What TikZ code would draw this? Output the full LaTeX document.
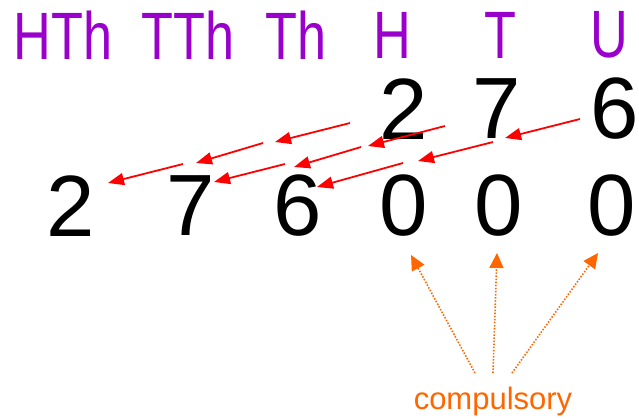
\documentclass[tikz,border=0pt]{standalone}
\usepackage{fontspec}
\setmainfont{Liberation Sans}
\usetikzlibrary{arrows.meta}
\definecolor{hdr}{RGB}{153,0,204}
\definecolor{org}{RGB}{255,102,0}
\tikzset{
  digit/.style={inner sep=0pt, anchor=center, font=\fontsize{87}{87}\selectfont},
  hdrlabel/.style={inner sep=0pt, anchor=center, text=hdr, font=\fontsize{67}{67}\selectfont, xscale=0.78, transform shape},
  movearrow/.style={red, line width=1.8pt, -{Triangle[length=16pt,width=12pt]}},
  must/.style={org, line width=1.6pt, dash pattern=on 1.5pt off 1.6pt, -{Triangle[length=15pt,width=14pt]}},
  note/.style={inner sep=0pt, anchor=center, text=org, font=\fontsize{31}{31}\selectfont}
}
\begin{document}
\begin{tikzpicture}[x=1pt,y=-1pt]
\useasboundingbox (0,0) rectangle (639,419);
% headers
\node[hdrlabel] (hHTh) at (63,35) {HTh};
\node[hdrlabel] (hTTh) at (188,35) {TTh};
\node[hdrlabel] (hTh) at (296,35) {Th};
\node[hdrlabel] (hH) at (392,35) {H};
\node[hdrlabel] (hT) at (500,35) {T};
\node[hdrlabel] (hU) at (609,35) {U};
% top number
\node[digit] (t2) at (404,109) {2};
\node[digit] (t7) at (497,109) {7};
\node[digit] (t6) at (615,109) {6};
% bottom number
\node[digit] (b2) at (71,206) {2};
\node[digit] (b7) at (191,206) {7};
\node[digit] (b6) at (298,206) {6};
\node[digit] (b0a) at (404,206) {0};
\node[digit] (b0b) at (499,206) {0};
\node[digit] (b0c) at (612,206) {0};
% shift arrows: chain from 6
\coordinate (s1a) at (580,119); \coordinate (e1a) at (505,138);
\coordinate (s1b) at (493,142); \coordinate (e1b) at (418,161);
\coordinate (s1c) at (403,163); \coordinate (e1c) at (317,187);
% chain from 7
\coordinate (s2a) at (445,126); \coordinate (e2a) at (368,146);
\coordinate (s2b) at (361,147); \coordinate (e2b) at (294,167);
\coordinate (s2c) at (285,164); \coordinate (e2c) at (214,182);
% chain from 2
\coordinate (s3a) at (350,123); \coordinate (e3a) at (275,142);
\coordinate (s3b) at (263,143); \coordinate (e3b) at (196,163);
\coordinate (s3c) at (183,164); \coordinate (e3c) at (108,183);
\foreach \c in {1,2,3}{
  \foreach \k in {a,b,c}{
    \draw[movearrow] (s\c\k) -- (e\c\k);
  }
}
% compulsory
\node[note] (comp) at (493,401) {compulsory};
\coordinate (cl) at (475,373);
\coordinate (cm) at (493,373);
\coordinate (cr) at (512,373);
\coordinate (tl) at (411,255);
\coordinate (tm) at (497,253);
\coordinate (tr) at (598,253);
\draw[must] (cl) -- (tl);
\draw[must] (cm) -- (tm);
\draw[must] (cr) -- (tr);
\end{tikzpicture}
\end{document}
